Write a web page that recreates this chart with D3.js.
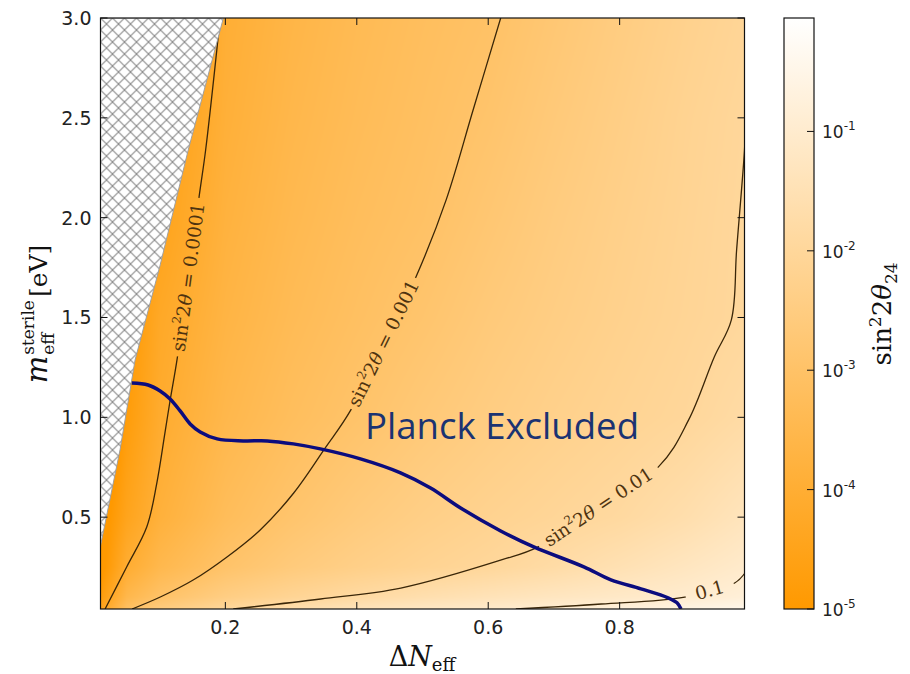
<!DOCTYPE html>
<html><head><meta charset="utf-8">
<script src="https://cdn.jsdelivr.net/npm/d3@7"></script>
<style>body{margin:0;background:#fff;} svg{display:block;}</style>
</head><body>
<svg id="chart" width="910" height="674"></svg>
<script>
// ---------- data ----------
const xTicks = [0.2, 0.4, 0.6, 0.8];
const yTicks = [0.5, 1.0, 1.5, 2.0, 2.5, 3.0];
const cbarTicks = [-5, -4, -3, -2, -1];

// log10(sin^2 2theta_24)
const gridDN = [0.01, 0.05, 0.1, 0.2, 0.3, 0.4, 0.5, 0.6, 0.7, 0.8, 0.9, 0.99];
const gridM  = [0.04, 0.1, 0.25, 0.5, 1.0, 1.5, 2.0, 2.5, 3.0];
const gridLog = [
  [-4.45,-3.10,-2.55,-2.00,-1.65,-1.40,-1.21,-1.06,-0.90,-0.75,-0.60,-0.45],
  [-4.80,-3.52,-3.00,-2.45,-2.12,-1.86,-1.62,-1.43,-1.27,-1.13,-1.00,-0.80],
  [-5.20,-4.03,-3.50,-2.96,-2.61,-2.36,-2.17,-2.01,-1.78,-1.53,-1.28,-1.05],
  [-5.30,-4.45,-3.85,-3.26,-2.90,-2.61,-2.39,-2.21,-2.06,-1.90,-1.65,-1.35],
  [-5.80,-4.80,-4.10,-3.53,-3.20,-2.95,-2.69,-2.48,-2.30,-2.15,-2.01,-1.80],
  [-6.00,-5.00,-4.25,-3.68,-3.35,-3.11,-2.89,-2.64,-2.44,-2.26,-2.10,-1.97],
  [-6.20,-5.30,-4.50,-3.80,-3.46,-3.22,-3.04,-2.79,-2.54,-2.33,-2.14,-1.98],
  [-6.40,-5.50,-4.70,-3.90,-3.55,-3.31,-3.12,-2.92,-2.65,-2.41,-2.18,-2.01],
  [-6.60,-5.70,-4.90,-3.97,-3.63,-3.38,-3.19,-3.03,-2.76,-2.50,-2.26,-2.08]
];

// contour lines [DeltaN_eff, m_eff]
const contour1e4 = [[0.017,0.04],[0.050,0.252],[0.0805,0.452],[0.0957,0.671],[0.108,0.921],[0.116,1.086],[0.127,1.30],[0.160,2.104],[0.170,2.339],[0.187,2.84],[0.192,3.0]];
const contour1e3 = [[0.058,0.04],[0.101,0.10],[0.151,0.185],[0.203,0.302],[0.253,0.436],[0.304,0.621],[0.352,0.847],[0.391,1.037],[0.49,1.703],[0.536,2.089],[0.577,2.539],[0.619,3.0]];
const contour1e2 = [[0.212,0.04],[0.345,0.09],[0.467,0.145],[0.620,0.286],[0.676,0.351],[0.859,0.752],[0.905,0.987],[0.944,1.302],[0.970,1.488],[0.978,1.838],[0.990,2.339],[0.992,2.5]];
const contour1e1 = [[0.642,0.04],[0.772,0.065],[0.899,0.10],[0.975,0.17],[0.992,0.226]];
const contourLabels = [
  {line: contour1e4, seg: 6, value: "0.0001", full: true},
  {line: contour1e3, seg: 7, value: "0.001", full: true},
  {line: contour1e2, seg: 4, value: "0.01", full: true},
  {line: contour1e1, seg: 2, value: "0.1", full: false}
];

// Planck exclusion curve
const planck = [[0.0576,1.172],[0.0824,1.162],[0.1007,1.132],[0.1159,1.092],[0.1312,1.032],[0.1464,0.967],[0.1617,0.927],[0.1876,0.892],[0.2272,0.882],[0.2638,0.882],[0.3034,0.867],[0.3446,0.842],[0.4056,0.792],[0.4666,0.722],[0.5123,0.646],[0.5580,0.546],[0.6190,0.431],[0.6693,0.351],[0.7455,0.251],[0.7867,0.186],[0.8324,0.141],[0.8736,0.096],[0.8873,0.071],[0.8934,0.04]];

// hatched (unphysical) region
const hatchRegion = [[0.01,3.0],[0.197,3.0],[0.1435,2.339],[0.1008,1.763],[0.0626,1.287],[0.0397,0.837],[0.0118,0.386],[0.01,0.356]];

// ---------- scales ----------
const svg = d3.select("#chart");
const x = d3.scaleLinear().domain([0.01, 0.99]).range([100.5, 744.5]);
const y = d3.scaleLinear().domain([0.04, 3.0]).range([609, 18]);
const cScale = d3.scaleLinear().domain([-5, -0.05]).range([609, 18]);
const interp = d3.interpolateRgb("#ff9900", "#ffffff");
const colorOf = v => interp(Math.max(0, Math.min(1, (v + 5) / 4.95)));
const X0 = x.range()[0], X1 = x.range()[1], Y0 = y.range()[1], Y1 = y.range()[0];
const PW = X1 - X0, PH = Y1 - Y0;

const defs = svg.append("defs");
defs.append("clipPath").attr("id", "plotclip").append("rect")
  .attr("x", X0).attr("y", Y0).attr("width", PW).attr("height", PH);

// ---------- heat map ----------
function fieldAt(dn, m) {
  let i = Math.max(0, Math.min(gridDN.length - 2, d3.bisectRight(gridDN, dn) - 1));
  let j = Math.max(0, Math.min(gridM.length - 2, d3.bisectRight(gridM, m) - 1));
  let tx = Math.max(0, Math.min(1, (dn - gridDN[i]) / (gridDN[i+1] - gridDN[i])));
  let ty = Math.max(0, Math.min(1, (m - gridM[j]) / (gridM[j+1] - gridM[j])));
  const a = gridLog[j][i], b = gridLog[j][i+1], c = gridLog[j+1][i], d = gridLog[j+1][i+1];
  return (a*(1-tx) + b*tx)*(1-ty) + (c*(1-tx) + d*tx)*ty;
}
const cw = Math.round(PW), ch = Math.round(PH);
const canvas = document.createElement("canvas");
canvas.width = cw; canvas.height = ch;
const ctx = canvas.getContext("2d");
const img = ctx.createImageData(cw, ch);
for (let j = 0; j < ch; j++) {
  const m = y.invert(Y0 + j + 0.5);
  for (let i = 0; i < cw; i++) {
    const dn = x.invert(X0 + i + 0.5);
    const col = d3.rgb(colorOf(fieldAt(dn, m)));
    const k = (j*cw + i)*4;
    img.data[k] = col.r; img.data[k+1] = col.g; img.data[k+2] = col.b; img.data[k+3] = 255;
  }
}
ctx.putImageData(img, 0, 0);
svg.append("image").attr("x", X0).attr("y", Y0).attr("width", PW).attr("height", PH)
  .attr("preserveAspectRatio", "none").attr("href", canvas.toDataURL());

// ---------- contour lines with label gaps ----------
const lineGen = d3.line().x(d => x(d[0])).y(d => y(d[1])).curve(d3.curveCatmullRom.alpha(0.5));
const mask = defs.append("mask").attr("id", "labelmask").attr("maskUnits", "userSpaceOnUse")
  .attr("x", 0).attr("y", 0).attr("width", 910).attr("height", 674);
mask.append("rect").attr("x", 0).attr("y", 0).attr("width", 910).attr("height", 674).attr("fill", "#fff");

const labelInfo = contourLabels.map(L => {
  const p = L.line[L.seg], q = L.line[L.seg + 1];
  const px1 = x(p[0]), py1 = y(p[1]), px2 = x(q[0]), py2 = y(q[1]);
  return {
    L, cx: (px1 + px2)/2, cy: (py1 + py2)/2,
    ang: Math.atan2(py2 - py1, px2 - px1) * 180 / Math.PI,
    len: Math.hypot(px2 - px1, py2 - py1)
  };
});
labelInfo.forEach(d => {
  mask.append("rect").attr("x", -d.len/2 + 1).attr("y", -10).attr("width", d.len - 2).attr("height", 20)
    .attr("fill", "#000").attr("transform", `translate(${d.cx},${d.cy}) rotate(${d.ang})`);
});

const cg = svg.append("g").attr("clip-path", "url(#plotclip)");
const cl = cg.append("g").attr("mask", "url(#labelmask)");
[contour1e4, contour1e3, contour1e2, contour1e1].forEach(c => {
  cl.append("path").attr("d", lineGen(c)).attr("fill", "none")
    .attr("stroke", "#3a2608").attr("stroke-width", 1.3);
});

labelInfo.forEach(d => {
  const t = cg.append("text")
    .attr("transform", `translate(${d.cx},${d.cy}) rotate(${d.ang})`)
    .attr("text-anchor", "middle").attr("dy", "0.35em")
    .attr("font-family", "DejaVu Serif").attr("font-size", 18.5).attr("fill", "#4e3310");
  if (d.L.full) {
    t.append("tspan").text("sin");
    t.append("tspan").attr("font-size", 12).attr("dy", -8).text("2");
    t.append("tspan").attr("dy", 8).text("2");
    t.append("tspan").attr("font-style", "italic").text("θ");
    t.append("tspan").text(" = " + d.L.value);
  } else {
    t.text(d.L.value);
  }
});

// ---------- hatched region ----------
const pat = defs.append("pattern").attr("id", "hatch").attr("patternUnits", "userSpaceOnUse")
  .attr("width", 12).attr("height", 12).attr("x", X0).attr("y", Y0);
pat.append("rect").attr("width", 12).attr("height", 12).attr("fill", "#fff");
pat.append("path").attr("d", "M-1,-1L13,13M-1,13L13,-1").attr("stroke", "#8a8a8a").attr("stroke-width", 1.1);
svg.append("path")
  .attr("d", d3.line().x(d => x(d[0])).y(d => y(d[1]))(hatchRegion) + "Z")
  .attr("fill", "url(#hatch)").attr("stroke", "#a0a0a0").attr("stroke-width", 1)
  .attr("clip-path", "url(#plotclip)");

// ---------- Planck curve ----------
svg.append("path").attr("d", lineGen(planck)).attr("fill", "none")
  .attr("stroke", "#0c0c7e").attr("stroke-width", 3.5).attr("clip-path", "url(#plotclip)");

svg.append("text").attr("x", 365).attr("y", 439)
  .attr("font-family", "Open Sans").attr("font-size", 36).attr("fill", "#1b3372")
  .attr("textLength", 274).attr("lengthAdjust", "spacingAndGlyphs")
  .text("Planck Excluded");

// ---------- frame + ticks ----------
svg.append("rect").attr("x", X0).attr("y", Y0).attr("width", PW).attr("height", PH)
  .attr("fill", "none").attr("stroke", "#111").attr("stroke-width", 1.2);
const tk = svg.append("g").attr("stroke", "#111").attr("stroke-width", 1);
xTicks.forEach(v => {
  tk.append("line").attr("x1", x(v)).attr("x2", x(v)).attr("y1", Y1).attr("y2", Y1 - 7);
  tk.append("line").attr("x1", x(v)).attr("x2", x(v)).attr("y1", Y0).attr("y2", Y0 + 7);
});
yTicks.forEach(v => {
  tk.append("line").attr("x1", X0).attr("x2", X0 + 7).attr("y1", y(v)).attr("y2", y(v));
  tk.append("line").attr("x1", X1).attr("x2", X1 - 7).attr("y1", y(v)).attr("y2", y(v));
});
const tl = svg.append("g").attr("font-family", "DejaVu Sans").attr("font-size", 19).attr("fill", "#222");
xTicks.forEach(v => {
  tl.append("text").attr("x", x(v)).attr("y", Y1 + 25).attr("text-anchor", "middle").text(v.toFixed(1));
});
yTicks.forEach(v => {
  tl.append("text").attr("x", X0 - 9).attr("y", y(v) + 7).attr("text-anchor", "end").text(v.toFixed(1));
});

// ---------- axis labels ----------
const xl = svg.append("text").attr("x", 422).attr("y", 666).attr("text-anchor", "middle")
  .attr("font-family", "DejaVu Serif").attr("font-size", 27).attr("fill", "#111");
xl.append("tspan").text("Δ");
xl.append("tspan").attr("font-style", "italic").text("N");
xl.append("tspan").attr("font-size", 18).attr("dy", 5).text("eff");

const yl = svg.append("g");
const ylIn = yl.append("g").attr("font-family", "DejaVu Serif").attr("fill", "#111");
const tm = ylIn.append("text").attr("font-size", 29).attr("font-style", "italic").attr("x", 0).attr("y", 0).text("m");
const wm = tm.node().getComputedTextLength();
const tsup = ylIn.append("text").attr("font-size", 17).attr("x", wm + 1).attr("y", -13).text("sterile");
const tsub = ylIn.append("text").attr("font-size", 17).attr("x", wm + 1).attr("y", 7).text("eff");
const ws = Math.max(tsup.node().getComputedTextLength(), tsub.node().getComputedTextLength());
const tev = ylIn.append("text").attr("font-size", 25).attr("x", wm + ws + 4).attr("y", 0).text("[eV]");
const totalW = wm + ws + 4 + tev.node().getComputedTextLength();
ylIn.attr("transform", `translate(${-totalW/2},0)`);
yl.attr("transform", "translate(47,314) rotate(-90)");

// ---------- colour bar ----------
const CX0 = 784, CX1 = 814;
const grad = defs.append("linearGradient").attr("id", "cbar").attr("x1", 0).attr("y1", 1).attr("x2", 0).attr("y2", 0);
grad.append("stop").attr("offset", 0).attr("stop-color", colorOf(-5));
grad.append("stop").attr("offset", 1).attr("stop-color", colorOf(-0.05));
svg.append("rect").attr("x", CX0).attr("y", cScale.range()[1]).attr("width", CX1 - CX0)
  .attr("height", cScale.range()[0] - cScale.range()[1])
  .attr("fill", "url(#cbar)").attr("stroke", "#111").attr("stroke-width", 1.2);
cbarTicks.forEach(v => {
  svg.append("line").attr("x1", CX1).attr("x2", CX1 - 7).attr("y1", cScale(v)).attr("y2", cScale(v))
    .attr("stroke", "#111").attr("stroke-width", 1);
  const t = svg.append("text").attr("x", CX1 + 8).attr("y", cScale(v) + 7)
    .attr("font-family", "DejaVu Sans").attr("font-size", 17).attr("fill", "#222");
  t.append("tspan").text("10");
  t.append("tspan").attr("font-size", 12).attr("dy", -8).text(String(v));
});
const cl2 = svg.append("text").attr("transform", "translate(891,314) rotate(-90)")
  .attr("text-anchor", "middle").attr("font-family", "DejaVu Serif").attr("font-size", 26).attr("fill", "#111");
cl2.append("tspan").text("sin");
cl2.append("tspan").attr("font-size", 17).attr("dy", -10).text("2");
cl2.append("tspan").attr("dy", 10).text("2");
cl2.append("tspan").attr("font-style", "italic").text("θ");
cl2.append("tspan").attr("font-size", 17).attr("dy", 6).text("24");
</script>
</body></html>
